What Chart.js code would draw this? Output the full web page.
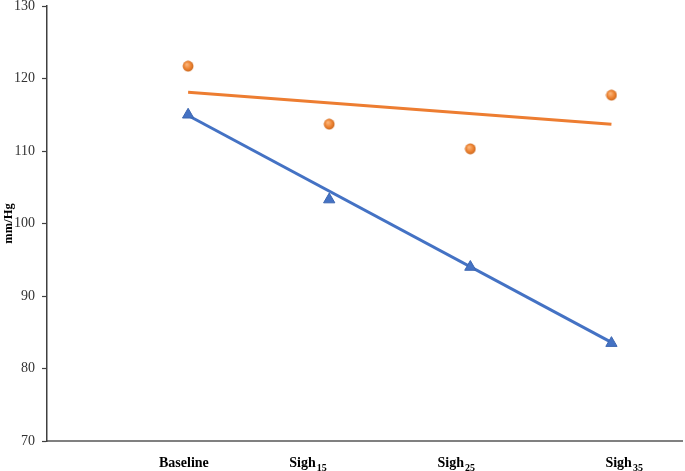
<!DOCTYPE html>
<html>
<head>
<meta charset="utf-8">
<script src="https://cdn.jsdelivr.net/npm/chart.js@4.4.1/dist/chart.umd.min.js"></script>
<style>
  html, body { margin: 0; padding: 0; background: #fff; }
  #wrap { width: 685px; height: 471px; position: relative; }
</style>
</head>
<body>
<div id="wrap"><canvas id="chart"></canvas></div>
<script>
// categories (label text + subscript)
const categories = ['Baseline', 'Sigh', 'Sigh', 'Sigh'];
const subscripts = ['', '15', '25', '35'];
const categoryX = [1, 2, 3, 4];

// marker values
const triangleValues = [115.0, 103.3, 94.0, 83.5];
const circleValues = [121.7, 113.7, 110.3, 117.7];

// trend line end points (Baseline -> Sigh35)
const triangleTrend = [114.9, 83.6];
const circleTrend = [118.1, 113.7];

const yTicks = [70, 80, 90, 100, 110, 120, 130];

const serif = "'Liberation Serif', 'Times New Roman', serif";

// shaded orange ball marker
function makeBall() {
    const c = document.createElement('canvas');
    c.width = 12; c.height = 12;
    const g = c.getContext('2d');
    const grad = g.createRadialGradient(4.6, 4.2, 0.5, 6, 6, 6);
    grad.addColorStop(0, '#fbb57a');
    grad.addColorStop(0.55, '#ee8433');
    grad.addColorStop(1, '#c4621a');
    g.fillStyle = grad;
    g.beginPath();
    g.arc(6, 6, 5.4, 0, Math.PI * 2);
    g.fill();
    return c;
}
const ball = makeBall();

const pts = (vals, xs) => vals.map((v, i) => ({ x: xs[i], y: v }));
const trendX = [categoryX[0], categoryX[categoryX.length - 1]];

// x labels with subscripts, centred a little off the tick like the original
const labelCentre = [0.97, 1.85, 2.9, 4.09];
const xLabels = {
    id: 'xLabels',
    afterDraw(chart) {
        const ctx = chart.ctx;
        const xs = chart.scales.x;
        const base = chart.chartArea.bottom + 26;
        ctx.save();
        ctx.fillStyle = '#000';
        ctx.textBaseline = 'alphabetic';
        categories.forEach((txt, i) => {
            ctx.font = 'bold 14px ' + serif;
            const w1 = ctx.measureText(txt).width;
            ctx.font = 'bold 10px ' + serif;
            const w2 = subscripts[i] ? ctx.measureText(subscripts[i]).width + 1 : 0;
            const cx = xs.getPixelForValue(labelCentre[i]);
            const left = cx - (w1 + w2) / 2;
            ctx.font = 'bold 14px ' + serif;
            ctx.textAlign = 'left';
            ctx.fillText(txt, left, base);
            if (subscripts[i]) {
                ctx.font = 'bold 10px ' + serif;
                ctx.fillText(subscripts[i], left + w1 + 1, base + 4);
            }
        });
        ctx.restore();
    }
};

new Chart(document.getElementById('chart'), {
    type: 'scatter',
    data: {
        datasets: [
            {
                label: 'circle trend',
                type: 'line',
                data: pts(circleTrend, trendX),
                borderColor: '#ed7d31',
                borderWidth: 3,
                pointRadius: 0,
                fill: false,
                order: 3
            },
            {
                label: 'triangle trend',
                type: 'line',
                data: pts(triangleTrend, trendX),
                borderColor: '#4472c4',
                borderWidth: 3,
                pointRadius: 0,
                fill: false,
                order: 4
            },
            {
                label: 'circle',
                data: pts(circleValues, categoryX),
                pointStyle: ball,
                order: 1
            },
            {
                label: 'triangle',
                data: pts(triangleValues, categoryX),
                pointStyle: 'triangle',
                pointRadius: 6.5,
                backgroundColor: '#4472c4',
                borderColor: '#3d66b0',
                borderWidth: 1,
                order: 2
            }
        ]
    },
    options: {
        responsive: true,
        maintainAspectRatio: false,
        animation: false,
        layout: { autoPadding: false, padding: { top: 6, right: 3, left: 0, bottom: 0 } },
        plugins: {
            legend: { display: false },
            tooltip: { enabled: false }
        },
        scales: {
            x: {
                type: 'linear',
                min: 0,
                max: 4.5,
                grid: { display: false, drawTicks: false },
                border: { display: true, color: '#808080', width: 2 },
                ticks: { display: false },
                afterFit(scale) {
                    scale.height = 30;
                    scale.paddingLeft = 0;
                    scale.paddingRight = 0;
                }
            },
            y: {
                min: 70,
                max: 130,
                afterBuildTicks(scale) { scale.ticks = yTicks.map(v => ({ value: v })); },
                grid: { drawOnChartArea: false, drawTicks: true, tickLength: 5, color: '#404040', tickWidth: 1.2 },
                border: { display: true, color: '#404040', width: 1.5 },
                ticks: {
                    color: '#333',
                    padding: 7,
                    font: { family: serif, size: 14 }
                },
                title: {
                    display: true,
                    text: 'mm/Hg',
                    color: '#000',
                    padding: { top: 1, bottom: 0 },
                    font: { family: serif, size: 12.5, weight: 'bold' }
                },
                afterFit(scale) {
                    scale.width = 47;
                    scale.paddingTop = 0;
                    scale.paddingBottom = 0;
                }
            }
        }
    },
    plugins: [xLabels]
});
</script>
</body>
</html>
